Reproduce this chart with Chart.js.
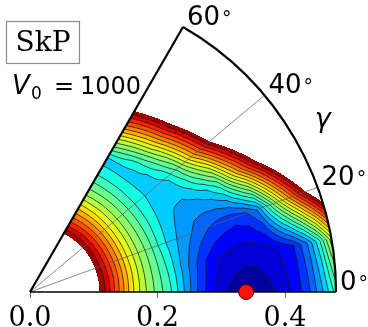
<!DOCTYPE html>
<html><head><meta charset="utf-8">
<script src="https://cdn.jsdelivr.net/npm/chart.js@4.4.1/dist/chart.umd.min.js"></script>
<style>html,body{margin:0;padding:0;background:#fff;overflow:hidden}#wrap{width:368px;height:327px;position:relative}</style>
</head><body><div id="wrap"><canvas id="c"></canvas></div>
<script>
// ---- data ----
const betaGrid = [0,0.02,0.04,0.06,0.08,0.10,0.12,0.14,0.16,0.18,0.20,0.22,0.24,0.26,0.28,0.30,0.32,0.34,0.36,0.38,0.40,0.42,0.44,0.46,0.48];
const gammaGrid = [0,10,20,30,40,50,60];
// normalised energy (0 = minimum, 1 = highest drawn contour) for each gamma row
const energyG0  = [1.9,1.75,1.6,1.45,1.25,1.05,0.94,0.80,0.665,0.56,0.48,0.41,0.31,0.21,0.13,0.07,0.03,0.0,0.02,0.045,0.08,0.13,0.20,0.30,0.42];
const energyG10 = [1.9,1.75,1.6,1.45,1.25,1.05,0.935,0.80,0.665,0.555,0.47,0.39,0.30,0.22,0.15,0.10,0.08,0.07,0.07,0.08,0.11,0.15,0.24,0.38,0.58];
const energyG20 = [1.9,1.75,1.6,1.45,1.25,1.05,0.93,0.795,0.66,0.55,0.465,0.37,0.31,0.27,0.23,0.20,0.18,0.17,0.19,0.26,0.45,0.64,0.82,1.0,1.17];
const energyG30 = [1.9,1.75,1.6,1.45,1.25,1.05,0.925,0.79,0.655,0.545,0.46,0.38,0.325,0.30,0.29,0.31,0.35,0.43,0.60,0.76,0.92,1.08,1.24,1.40,1.56];
const energyG40 = [1.9,1.75,1.6,1.45,1.25,1.05,0.92,0.785,0.65,0.54,0.455,0.38,0.34,0.328,0.36,0.46,0.62,0.78,0.94,1.10,1.25,1.4,1.55,1.7,1.85];
const energyG50 = [1.9,1.75,1.6,1.45,1.25,1.045,0.91,0.775,0.645,0.535,0.45,0.375,0.328,0.37,0.5,0.65,0.81,0.97,1.13,1.28,1.42,1.56,1.7,1.84,1.98];
const energyG60 = [1.9,1.75,1.6,1.45,1.25,1.04,0.895,0.765,0.64,0.525,0.444,0.37,0.325,0.48,0.625,0.79,0.94,1.1,1.25,1.4,1.55,1.7,1.85,2.0,2.15];
const levelCount = 20;
const betaTicks = [0, 0.2, 0.4];
const gammaLabels = [0, 20, 40, 60];
const gammaGridLines = [20, 40];
const minimumPoint = {beta: 0.339, gamma: 0};
const modelName = 'SkP';
const v0Value = '1000';

// ---- helpers ----
const energyRows = [energyG0, energyG10, energyG20, energyG30, energyG40, energyG50, energyG60];
const JR=[[0,0],[0.35,0],[0.66,1],[0.89,1],[1,0.5]];
const JG=[[0,0],[0.125,0],[0.375,1],[0.64,1],[0.91,0],[1,0]];
const JB=[[0,0.5],[0.11,1],[0.34,1],[0.65,0],[1,0]];
function ch(p,t){for(let i=0;i<p.length-1;i++){if(t<=p[i+1][0]){return p[i][1]+(p[i+1][1]-p[i][1])*(t-p[i][0])/(p[i+1][0]-p[i][0]);}}return p[p.length-1][1];}
function jet(t){return [Math.round(255*ch(JR,t)),Math.round(255*ch(JG,t)),Math.round(255*ch(JB,t))];}
const bandColors=[];for(let k=0;k<levelCount;k++)bandColors.push(jet((k+0.5)/levelCount));
function interp(b,g){
  const nb=betaGrid.length, ng=gammaGrid.length;
  let i=0; while(i<nb-2 && b>betaGrid[i+1]) i++;
  let j=0; while(j<ng-2 && g>gammaGrid[j+1]) j++;
  const tb=(b-betaGrid[i])/(betaGrid[i+1]-betaGrid[i]);
  const tg=(g-gammaGrid[j])/(gammaGrid[j+1]-gammaGrid[j]);
  const r0=energyRows[j], r1=energyRows[j+1];
  const a=r0[i]+(r0[i+1]-r0[i])*tb, c=r1[i]+(r1[i+1]-r1[i])*tb;
  return a+(c-a)*tg;
}
const D2R=Math.PI/180;

const pesPlugin = {
  id:'pes',
  beforeDatasetsDraw(chart){
    const ctx=chart.ctx, xs=chart.scales.x, ys=chart.scales.y;
    const bMax=betaGrid[betaGrid.length-1], gMax=gammaGrid[gammaGrid.length-1];
    const ox=xs.getPixelForValue(0), oy=ys.getPixelForValue(0);
    const R=xs.getPixelForValue(bMax)-ox;
    const left=Math.floor(ox)-1, right=Math.ceil(ox+R)+1;
    const top=Math.floor(oy-R*Math.sin(gMax*D2R))-1, bottom=Math.ceil(oy)+1;
    const W=right-left, H=bottom-top;
    const sample=(px,py)=>{
      const xv=xs.getValueForPixel(px), yv=ys.getValueForPixel(py);
      const b=Math.hypot(xv,yv); const g=Math.atan2(yv,xv)/D2R;
      if(g<-0.3||g>gMax+0.3||b>bMax*1.002) return NaN;
      return interp(b,Math.max(0,Math.min(gMax,g)));
    };
    const N=levelCount;
    const off=document.createElement('canvas'); off.width=W; off.height=H;
    const octx=off.getContext('2d'); const img=octx.createImageData(W,H);
    for(let j=0;j<H;j++)for(let i=0;i<W;i++){
      const f=sample(left+i+0.5,top+j+0.5);
      if(!(f>=0&&f<=1)) continue;
      const k=Math.min(N-1,Math.floor(f*N)); const c=bandColors[k];
      const p=(j*W+i)*4; img.data[p]=c[0];img.data[p+1]=c[1];img.data[p+2]=c[2];img.data[p+3]=255;
    }
    octx.putImageData(img,0,0);
    ctx.save();
    ctx.beginPath(); ctx.moveTo(ox,oy); ctx.arc(ox,oy,R,-gMax*D2R,0); ctx.closePath(); ctx.clip();
    ctx.drawImage(off,left,top);
    const GW=W+1, GH=H+1, F=new Float32Array(GW*GH);
    for(let j=0;j<GH;j++)for(let i=0;i<GW;i++)F[j*GW+i]=sample(left+i,top+j);
    ctx.beginPath();
    for(let j=0;j<H;j++)for(let i=0;i<W;i++){
      const a=F[j*GW+i], b=F[j*GW+i+1], c=F[(j+1)*GW+i+1], d=F[(j+1)*GW+i];
      if(isNaN(a)||isNaN(b)||isNaN(c)||isNaN(d)) continue;
      const mn=Math.min(a,b,c,d), mx=Math.max(a,b,c,d);
      const k0=Math.max(1,Math.ceil(mn*N)), k1=Math.min(N-1,Math.floor(mx*N));
      for(let k=k0;k<=k1;k++){
        const L=k/N+1e-7; const pts=[];
        const X=left+i, Y=top+j;
        if((a-L)*(b-L)<0) pts.push([X+(L-a)/(b-a),Y]);
        if((b-L)*(c-L)<0) pts.push([X+1,Y+(L-b)/(c-b)]);
        if((d-L)*(c-L)<0) pts.push([X+(L-d)/(c-d),Y+1]);
        if((a-L)*(d-L)<0) pts.push([X,Y+(L-a)/(d-a)]);
        for(let q=0;q+1<pts.length;q+=2){ctx.moveTo(pts[q][0],pts[q][1]);ctx.lineTo(pts[q+1][0],pts[q+1][1]);}
      }
    }
    ctx.strokeStyle='rgba(25,25,25,0.85)'; ctx.lineWidth=0.9; ctx.stroke();
    ctx.restore();
    ctx.save();
    ctx.strokeStyle='rgba(95,95,95,0.9)'; ctx.lineWidth=0.8;
    for(const g of gammaGridLines){
      ctx.beginPath(); ctx.moveTo(ox,oy);
      ctx.lineTo(xs.getPixelForValue(bMax*Math.cos(g*D2R)), ys.getPixelForValue(bMax*Math.sin(g*D2R))); ctx.stroke();
    }
    ctx.strokeStyle='#000';
    ctx.lineWidth=1.3; ctx.beginPath(); ctx.moveTo(ox,oy); ctx.lineTo(ox+R,oy); ctx.stroke();
    ctx.lineWidth=2.2; ctx.beginPath(); ctx.moveTo(ox,oy);
    ctx.lineTo(xs.getPixelForValue(bMax*Math.cos(gMax*D2R)), ys.getPixelForValue(bMax*Math.sin(gMax*D2R))); ctx.stroke();
    ctx.beginPath(); ctx.arc(ox,oy,R,-gMax*D2R,0); ctx.stroke();
    ctx.fillStyle='#000'; ctx.textAlign='left'; ctx.textBaseline='alphabetic';
    for(const g of gammaLabels){
      const px=xs.getPixelForValue(bMax*Math.cos(g*D2R)), py=ys.getPixelForValue(bMax*Math.sin(g*D2R));
      ctx.font='26px "DejaVu Sans"';
      const s=String(g); ctx.fillText(s,px+4,py-2);
      const w=ctx.measureText(s).width;
      ctx.font='19px "DejaVu Sans"'; ctx.fillText('\u00B0',px+4+w+2,py-2);
    }
    const gx=xs.getPixelForValue(bMax*1.11*Math.cos(30.5*D2R)), gy=ys.getPixelForValue(bMax*1.11*Math.sin(30.5*D2R));
    ctx.font='italic 27px "DejaVu Sans"'; ctx.textAlign='center'; ctx.textBaseline='middle';
    ctx.fillText('\u03B3',gx,gy);
    ctx.strokeStyle='#8a8a8a'; ctx.lineWidth=1.2; ctx.strokeRect(6.5,21.5,73,42);
    ctx.font='28px "DejaVu Serif"'; ctx.textAlign='center'; ctx.textBaseline='alphabetic';
    ctx.fillText(modelName,43,51);
    ctx.textAlign='left';
    ctx.font='italic 26px "DejaVu Sans"'; ctx.fillText('V',12,94);
    ctx.font='17px "DejaVu Sans"'; ctx.fillText('0',31,99);
    ctx.font='24px "DejaVu Sans"'; ctx.fillText('=',54,94); ctx.fillText(v0Value,80,94);
    ctx.restore();
  }
};

new Chart(document.getElementById('c'),{
  type:'scatter',
  data:{datasets:[{
    data:[{x:minimumPoint.beta*Math.cos(minimumPoint.gamma*D2R), y:minimumPoint.beta*Math.sin(minimumPoint.gamma*D2R)}],
    pointRadius:7.5, pointHoverRadius:7.5, backgroundColor:'#ff1010', borderColor:'#5a0000', borderWidth:1, clip:false
  }]},
  options:{
    responsive:true, maintainAspectRatio:false, animation:false, events:[],
    layout:{padding:{left:30,right:32,top:20,bottom:0}},
    plugins:{legend:{display:false},tooltip:{enabled:false}},
    scales:{
      x:{type:'linear',min:0,max:0.48,
        afterBuildTicks:(s)=>{s.ticks=betaTicks.map(v=>({value:v}));},
        afterFit:(s)=>{s.height=35;},
        ticks:{callback:(v)=>Number(v).toFixed(1),font:{family:'DejaVu Serif',size:27},color:'#000',padding:5,maxRotation:0,autoSkip:false},
        grid:{drawOnChartArea:false,drawTicks:true,tickLength:6,color:'#666'},
        border:{display:false}},
      y:{type:'linear',min:0,max:272/637.5,display:false}
    }
  },
  plugins:[pesPlugin]
});
</script></body></html>
